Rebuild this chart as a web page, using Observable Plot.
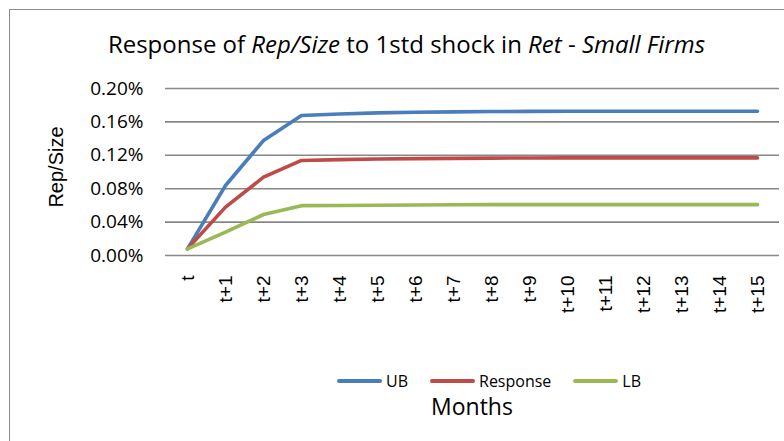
<!DOCTYPE html>
<html>
<head>
<meta charset="utf-8">
<script src="https://cdn.jsdelivr.net/npm/d3@7"></script>
<script src="https://cdn.jsdelivr.net/npm/@observablehq/plot@0.6"></script>
<style>
  html, body { margin: 0; padding: 0; background: #fff; }
  #wrap { position: relative; width: 784px; height: 441px; overflow: hidden; background: #fff; }
  #frame { position: absolute; left: 9px; top: 9px; width: 820px; height: 480px; border: 1.5px solid #8c8c8c; box-sizing: border-box; }
  #title { position: absolute; left: 0; top: 32px; width: 813px; text-align: center; font-family: "Open Sans", sans-serif; font-size: 24px; color: #000; white-space: nowrap; line-height: 1; }
  #ytitle { position: absolute; left: 56px; top: 167px; transform: translate(-50%, -50%) rotate(-90deg); font-family: "Liberation Sans", Arial, sans-serif; font-size: 20px; white-space: nowrap; color: #000; line-height: 1; }
  #chart { position: absolute; left: 0; top: 70px; }
  #legend { position: absolute; left: 337px; top: 373px; height: 16px; display: flex; align-items: center; font-family: "Open Sans", sans-serif; font-size: 16px; line-height: 16px; color: #000; white-space: nowrap; }
  .item { display: flex; align-items: center; margin-right: 22px; }
  .sw { width: 45px; height: 4px; border-radius: 2px; margin-right: 4px; }
  #xtitle { position: absolute; left: 472px; top: 395px; transform: translateX(-50%); font-family: "Open Sans", sans-serif; font-size: 23px; color: #000; white-space: nowrap; line-height: 1; }
</style>
</head>
<body>
<div id="wrap">
  <div id="frame"></div>
  <div id="title">Response of <i>Rep/Size</i> to 1std shock in <i>Ret</i> - <i>Small Firms</i></div>
  <div id="ytitle">Rep/Size</div>
  <div id="chart"></div>
  <div id="legend"></div>
  <div id="xtitle">Months</div>
</div>
<script>
// Categories (months after shock)
const months = ["t","t+1","t+2","t+3","t+4","t+5","t+6","t+7","t+8","t+9","t+10","t+11","t+12","t+13","t+14","t+15"];
// Values in percent
const ub       = [0.0080, 0.0838, 0.1377, 0.1677, 0.1695, 0.1708, 0.1715, 0.1720, 0.1724, 0.1726, 0.1727, 0.1727, 0.1727, 0.1727, 0.1727, 0.1727];
const response = [0.0080, 0.0579, 0.0938, 0.1138, 0.1148, 0.1155, 0.1160, 0.1163, 0.1166, 0.1168, 0.1169, 0.1169, 0.1169, 0.1169, 0.1169, 0.1169];
const lb       = [0.0080, 0.0279, 0.0491, 0.0597, 0.0599, 0.0602, 0.0605, 0.0607, 0.0609, 0.0609, 0.0609, 0.0609, 0.0609, 0.0609, 0.0609, 0.0609];
const seriesNames = ["UB", "Response", "LB"];
const seriesColors = ["#4a7ebb", "#be4b48", "#98b954"];
const yTicks = [0, 0.04, 0.08, 0.12, 0.16, 0.20];

const seriesValues = [ub, response, lb];
const rows = [];
seriesNames.forEach((name, i) => {
  months.forEach((m, j) => rows.push({series: name, month: m, value: seriesValues[i][j]}));
});

const chart = Plot.plot({
  width: 784,
  height: 260,
  marginTop: 18,
  marginBottom: 75,
  marginLeft: 165,
  marginRight: 5,
  style: { background: "transparent", overflow: "visible" },
  x: { type: "point", domain: months, padding: 0.5, label: null },
  y: { domain: [0, 0.2], label: null },
  color: { domain: seriesNames, range: seriesColors },
  marks: [
    Plot.ruleY(yTicks, { stroke: "#878787", strokeWidth: 1.6 }),
    Plot.axisY({
      ticks: yTicks, tickSize: 0, tickPadding: 22,
      tickFormat: d => d.toFixed(2) + "%",
      fontSize: 19, fontFamily: "Open Sans, sans-serif", fill: "#000", label: null
    }),
    Plot.axisX({
      tickSize: 0, tickPadding: 20, tickRotate: -90,
      fontSize: 19, fontFamily: "Liberation Sans, Arial, sans-serif", fill: "#000", label: null
    }),
    Plot.line(rows, {
      x: "month", y: "value", z: "series", stroke: "series",
      strokeWidth: 3.6, strokeLinecap: "round", strokeLinejoin: "round"
    })
  ]
});
document.getElementById("chart").appendChild(chart);

const legend = document.getElementById("legend");
seriesNames.forEach((name, i) => {
  const item = document.createElement("div");
  item.className = "item";
  const sw = document.createElement("div");
  sw.className = "sw";
  sw.style.background = seriesColors[i];
  const tx = document.createElement("span");
  tx.textContent = name;
  item.appendChild(sw);
  item.appendChild(tx);
  legend.appendChild(item);
});
</script>
</body>
</html>
